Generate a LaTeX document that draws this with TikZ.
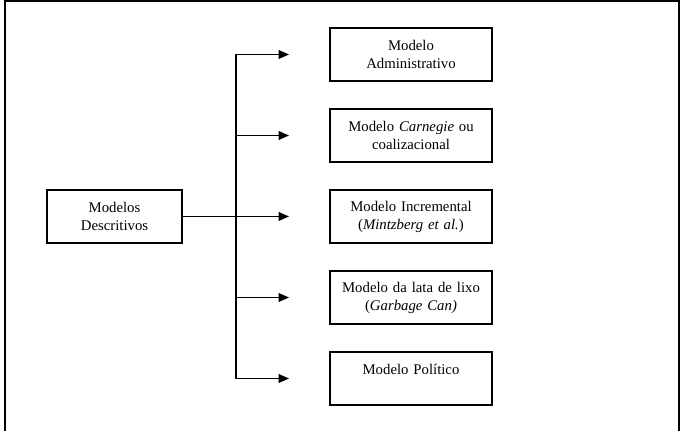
\documentclass[tikz,border=0pt]{standalone}
\usepackage{fontspec}
\setmainfont{Liberation Serif}
\usepackage{tikz}
\usetikzlibrary{arrows.meta}

\begin{document}
\begin{tikzpicture}
			[x=0.025cm, y=-0.025cm,
			 modelbox/.style={rectangle, draw, line width=0.9pt, align=center, inner xsep=0.125cm, inner ysep=0pt, minimum height=1.325cm, font=\fontsize{10.5}{12.8}\selectfont},
			 linkarrow/.style={-{Triangle[length=2.6mm, width=2.2mm]}, line width=0.9pt}]
			
			\useasboundingbox (0,0) rectangle (683,431);
			\draw[line width=0.9pt] (5,434) -- (5,1) -- (679,1) -- (679,434);
			
			\node[modelbox, text width=3.125cm] (desc) at (114.5,216.5) {Modelos\\Descritivos};
			
			\node[modelbox, text width=3.8cm] (adm) at (411,54.5) {Modelo\\Administrativo};
			\node[modelbox, text width=3.8cm] (carn) at (411,135.5) {Modelo \textit{Carnegie} ou\\coalizacional};
			\node[modelbox, text width=3.8cm] (incr) at (411,216.5) {Modelo Incremental\\(\textit{Mintzberg et al.})};
			\node[modelbox, text width=3.8cm] (lata) at (411,297.5) {Modelo da lata de lixo\\(\textit{Garbage Can)}};
			\node[modelbox, text width=3.8cm] (pol) at (411,378.5) {Modelo Político\\\mbox{}};
			
			\foreach \i/\y in {1/54.5, 2/135.5, 3/216.5, 4/297.5, 5/378.5} {
				\coordinate (b\i) at (236,\y);
				\coordinate (t\i) at (289,\y);
			}
			
			\draw[line width=0.9pt] (b1) -- (b5);
			\draw[linkarrow] (desc.east) -- (t3);
			\foreach \i in {1,2,4,5}
				\draw[linkarrow] (b\i) -- (t\i);
		\end{tikzpicture}
\end{document}
